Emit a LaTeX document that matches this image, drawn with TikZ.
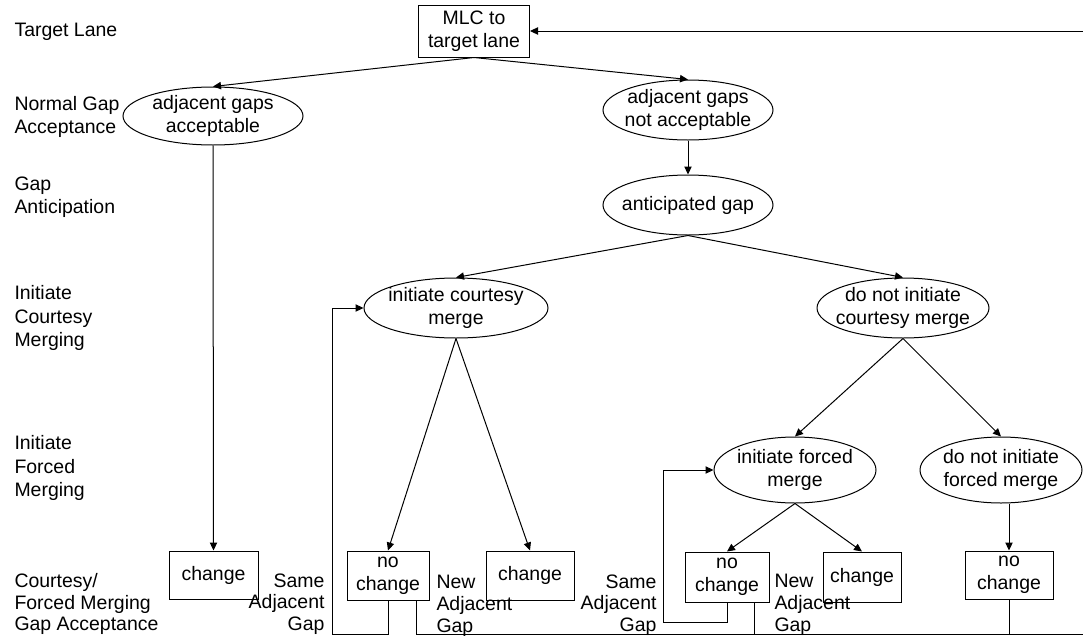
\documentclass[tikz,border=0pt]{standalone}
\usepackage{fontspec}
\setmainfont{Liberation Sans}
\usetikzlibrary{arrows.meta,shapes.geometric,calc}
\newcommand\dfont{\fontsize{14.6}{17.5}\selectfont}
\newcommand\gfont{\fontsize{14.6}{16.3}\selectfont}
\begin{document}
\begin{tikzpicture}[x=0.75pt,y=-0.75pt, line width=0.75pt,
  every node/.style={font=\dfont},
  box/.style 2 args={draw, rectangle, align=center, inner sep=0pt, minimum width=#1*0.75pt, minimum height=#2*0.75pt},
  ell/.style 2 args={draw, ellipse, inner sep=0pt, minimum width=#1*1.5pt, minimum height=#2*1.5pt},
  lbl/.style={align=center, inner sep=0pt},
  side/.style={align=left, anchor=west, inner sep=0pt},
  gapL/.style={font=\gfont, align=left, anchor=west, inner sep=0pt},
  gapR/.style={font=\gfont, align=right, anchor=east, inner sep=0pt},
  arr/.style={-{Triangle[length=6pt,width=5.5pt]}}]
\useasboundingbox (0,0) rectangle (1083,636);
\clip (0,0) rectangle (1083,636);

% row labels
\node[side] (lTL) at (14,32) {Target Lane};
\node[side] (lNG) at (14,117) {Normal Gap\\Acceptance};
\node[side] (lGA) at (14,197) {Gap\\Anticipation};
\node[side] (lIC) at (14,318) {Initiate\\Courtesy\\Merging};
\node[side] (lIF) at (14,468) {Initiate\\Forced\\Merging};
\node[gapL] (lCF) at (14,604) {Courtesy/\\Forced Merging\\Gap Acceptance};

% nodes
\node[box={111}{52}] (mlc) at (474,31) {MLC to\\target lane};
\node[ell={90}{29}, label={[lbl]center:{adjacent gaps\\acceptable}}] (acc) at (213,116) {};
\node[ell={85}{30}, label={[lbl]center:{adjacent gaps\\not acceptable}}] (nacc) at (688,110) {};
\node[ell={85}{30}, label={[lbl]center:{anticipated gap}}] (ant) at (688,205) {};
\node[ell={92}{30}, label={[lbl]center:{initiate courtesy\\merge}}] (icm) at (456,308) {};
\node[ell={86}{30}, label={[lbl]center:{do not initiate\\courtesy merge}}] (ncm) at (903,308) {};
\node[ell={81}{33}, label={[lbl]center:{initiate forced\\merge}}] (ifm) at (795,470) {};
\node[ell={81}{33}, label={[lbl]center:{do not initiate\\forced merge}}] (nfm) at (1001,470) {};

\node[box={89}{48}] (ch1) at (213.5,575) {change};
\node[box={82}{49}] (nc1) at (388,575.5) {no\\change};
\node[box={88}{49}] (ch2) at (530,575.5) {change};
\node[box={84}{50}] (nc2) at (727,577) {no\\change};
\node[box={78}{50}] (ch3) at (862,577) {change};
\node[box={88}{48}] (nc3) at (1009,575) {no\\change};

% gap labels
\node[gapR] (s1) at (325,604) {Same\\Adjacent\\Gap};
\node[gapL] (g1) at (436,606) {New\\Adjacent\\Gap};
\node[gapR] (s2) at (657,605) {Same\\Adjacent\\Gap};
\node[gapL] (g2) at (774,605) {New\\Adjacent\\Gap};

% tree edges
\draw[arr] (mlc.south) -- (acc.north);
\draw[arr] (mlc.south) -- (nacc.north);
\draw[arr] (nacc.south) -- (ant.north);
\draw[arr] (ant.south) -- (icm.north);
\draw[arr] (ant.south) -- (ncm.north);
\draw[arr] (acc.south) -- (ch1.north);
\draw[arr] (icm.south) -- (nc1.north);
\draw[arr] (icm.south) -- (ch2.north);
\draw[arr] (ncm.south) -- (ifm.north);
\draw[arr] (ncm.south) -- (nfm.north);
\draw[arr] (ifm.south) -- (nc2.north);
\draw[arr] (ifm.south) -- (ch3.north);
\draw[arr] (nc3.north |- nfm.south) -- (nc3.north);

% loops
\coordinate (b1) at (332,634);
\coordinate (b2) at (663,622);
\coordinate (br) at (1090,634);
\coordinate (tr) at (1090,31);
\draw[arr] (nc1.south) |- (b1) |- (icm.west);
\draw[arr] (nc2.south) |- (b2) |- (ifm.west);
\draw[arr] ($(nc1.south east)+(-13,0)$) |- (br) -- (tr) -- (mlc.east);
\draw ($(nc2.south east)+(-15,0)$) coordinate (n2) -- (n2 |- br);
\draw (nc3.south) -- (nc3.south |- br);
\end{tikzpicture}
\end{document}
